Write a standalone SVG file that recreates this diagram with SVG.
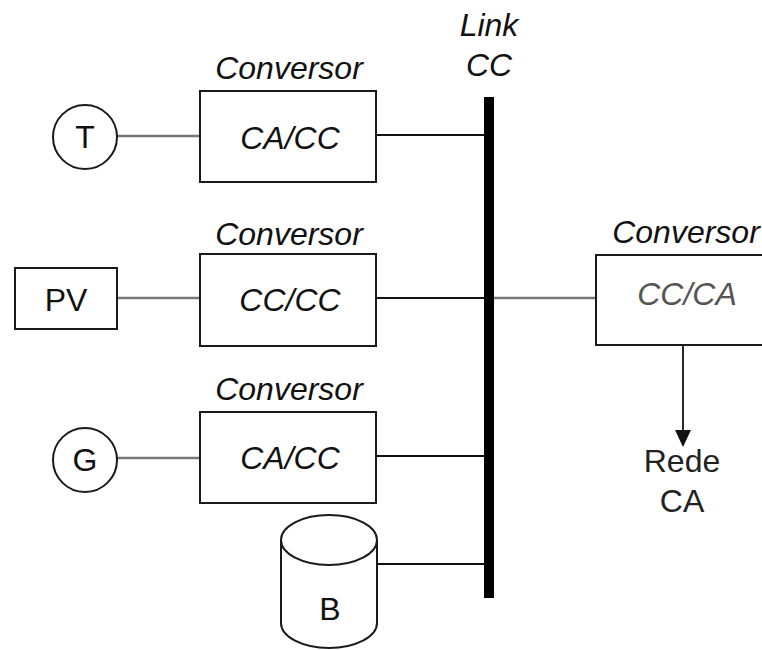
<svg xmlns="http://www.w3.org/2000/svg" width="762" height="650" viewBox="0 0 762 650">
<defs>
<style>
.box{fill:#fff;stroke:#1a1a1a;stroke-width:2}
.t{font-family:"Liberation Sans",Arial,sans-serif;font-size:32px;fill:#111;text-anchor:middle}
.i{font-style:italic}
.w{stroke:#111;stroke-width:1.8;fill:none}
.g{stroke:#777;stroke-width:2.6;fill:none}
</style>
<marker id="ah" markerWidth="10" markerHeight="10" refX="9" refY="5" orient="auto" markerUnits="userSpaceOnUse">
<path d="M0,0 L10,5 L0,10 Z" fill="#111" transform="scale(1.8,1.2) translate(0,-0.8)"/>
</marker>
</defs>
<rect width="762" height="650" fill="#fff"/>
<g id="connectors">
<line class="g" x1="117" y1="136" x2="200" y2="136"/>
<line class="w" x1="376" y1="135" x2="485" y2="135"/>
<line class="g" x1="117" y1="298" x2="200" y2="298"/>
<line class="w" x1="376" y1="298" x2="485" y2="298"/>
<line class="g" x1="492" y1="298" x2="596" y2="298"/>
<line class="g" x1="117" y1="458" x2="200" y2="458"/>
<line class="w" x1="376" y1="456" x2="485" y2="456"/>
<line class="w" x1="377" y1="564" x2="485" y2="564"/>
<line class="w" x1="683" y1="346" x2="683" y2="430"/>
<path d="M675,430 L691,430 L683,447 Z" fill="#111"/>
</g>
<g id="bus">
<rect x="484" y="97" width="10" height="501" fill="#000"/>
<text class="t i" x="489" y="36">Link</text>
<text class="t i" x="489" y="76">CC</text>
</g>
<g id="T">
<circle cx="85" cy="137" r="32" class="box"/>
<text class="t" x="85" y="148">T</text>
</g>
<g id="conv1">
<text class="t i" x="289" y="79">Conversor</text>
<rect class="box" x="200" y="91" width="176" height="91"/>
<text class="t i" x="290" y="149">CA/CC</text>
</g>
<g id="PV">
<rect class="box" x="15" y="268" width="102" height="61"/>
<text class="t" x="66" y="311">PV</text>
</g>
<g id="conv2">
<text class="t i" x="289" y="245">Conversor</text>
<rect class="box" x="200" y="254" width="176" height="92"/>
<text class="t i" x="290" y="311">CC/CC</text>
</g>
<g id="G">
<circle cx="85" cy="460" r="32" class="box"/>
<text class="t" x="85" y="471">G</text>
</g>
<g id="conv3">
<text class="t i" x="289" y="400">Conversor</text>
<rect class="box" x="200" y="412" width="176" height="91"/>
<text class="t i" x="290" y="469">CA/CC</text>
</g>
<g id="B">
<path class="box" d="M281,540 L281,623 A48,25 0 0 0 377,623 L377,540 A48,25 0 0 0 281,540 Z"/>
<path class="box" style="fill:none" d="M281,540 A48,25 0 0 0 377,540"/>
<text class="t" x="330" y="620">B</text>
</g>
<g id="conv4">
<text class="t i" x="686" y="243">Conversor</text>
<rect class="box" x="596" y="255" width="180" height="90"/>
<text class="t i" x="687" y="305" style="fill:#555">CC/CA</text>
</g>
<g id="rede">
<text class="t" x="682" y="472" style="fill:#222">Rede</text>
<text class="t" x="682" y="512" style="fill:#222">CA</text>
</g>
</svg>
